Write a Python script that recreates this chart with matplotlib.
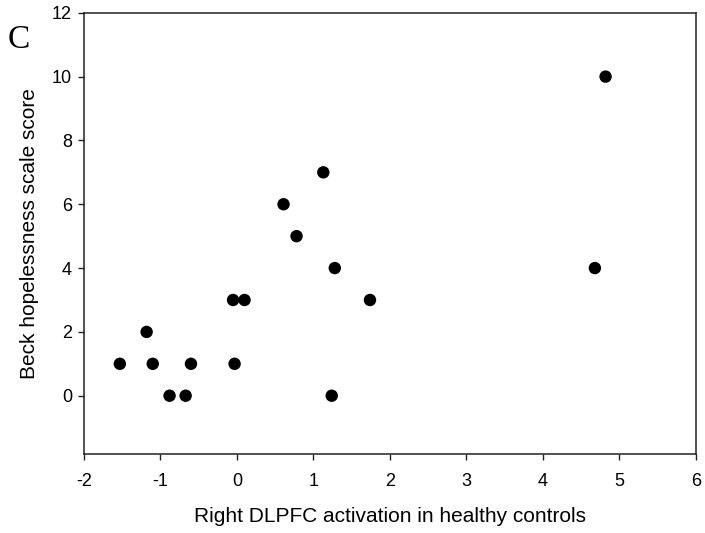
import matplotlib

matplotlib.use("Agg")
import matplotlib.pyplot as plt

# right DLPFC activation vs Beck hopelessness score
activation = [-1.53, -1.18, -1.10, -0.88, -0.67, -0.60, -0.05, -0.03, 0.10,
              0.61, 0.78, 1.13, 1.24, 1.28, 1.74, 4.68, 4.82]
hopelessness = [1, 2, 1, 0, 0, 1, 3, 1, 3, 6, 5, 7, 0, 4, 3, 4, 10]

x_ticks = [-2, -1, 0, 1, 2, 3, 4, 5, 6]
y_ticks = [0, 2, 4, 6, 8, 10, 12]

plt.rcParams["font.family"] = ["Liberation Sans", "DejaVu Sans"]
plt.rcParams["axes.unicode_minus"] = False

fig = plt.figure(figsize=(7.05, 5.33), dpi=100)
ax = fig.add_axes([0.119, 0.148, 0.868, 0.828])

ax.scatter(activation, hopelessness, s=80, color="black", edgecolor="none", zorder=3)

ax.set_xlim(-2, 6)
ax.set_ylim(-1.83, 12)
ax.set_xticks(x_ticks)
ax.set_yticks(y_ticks)
ax.tick_params(axis="both", direction="out", length=4.5, width=1, labelsize=13,
               color="#222222")
ax.tick_params(axis="x", pad=9)
ax.tick_params(axis="y", pad=4)
for side in ("top", "right", "left", "bottom"):
    ax.spines[side].set_linewidth(1.1)
    ax.spines[side].set_color("#222222")

ax.set_xlabel("Right DLPFC activation in healthy controls", fontsize=15, labelpad=12)
ax.set_ylabel("Beck hopelessness scale score", fontsize=15, labelpad=9)

fig.text(0.027, 0.925, "C", family="Liberation Serif", fontsize=24,
         ha="center", va="center")

fig.savefig("out.png", dpi=100)
